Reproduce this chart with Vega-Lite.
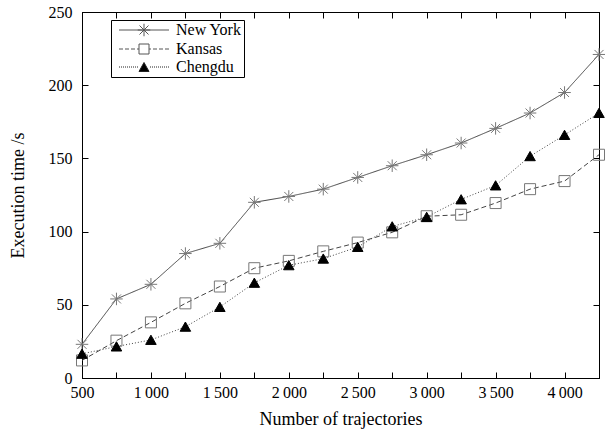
{
  "$schema": "https://vega.github.io/schema/vega-lite/v6.json",
  "autosize": "none",
  "width": 517,
  "height": 366,
  "padding": {"left": 82, "top": 12, "right": 6, "bottom": 52},
  "background": "white",
  "data": {"values": [
    {"city": "New York", "n": 500, "t": 23},
    {"city": "New York", "n": 750, "t": 54},
    {"city": "New York", "n": 1000, "t": 64},
    {"city": "New York", "n": 1250, "t": 85},
    {"city": "New York", "n": 1500, "t": 92},
    {"city": "New York", "n": 1750, "t": 120},
    {"city": "New York", "n": 2000, "t": 124},
    {"city": "New York", "n": 2250, "t": 129},
    {"city": "New York", "n": 2500, "t": 137},
    {"city": "New York", "n": 2750, "t": 145},
    {"city": "New York", "n": 3000, "t": 152.5},
    {"city": "New York", "n": 3250, "t": 160.5},
    {"city": "New York", "n": 3500, "t": 170.5},
    {"city": "New York", "n": 3750, "t": 181},
    {"city": "New York", "n": 4000, "t": 195},
    {"city": "New York", "n": 4250, "t": 221},
    {"city": "Kansas", "n": 500, "t": 12},
    {"city": "Kansas", "n": 750, "t": 25.5},
    {"city": "Kansas", "n": 1000, "t": 38},
    {"city": "Kansas", "n": 1250, "t": 51},
    {"city": "Kansas", "n": 1500, "t": 62.5},
    {"city": "Kansas", "n": 1750, "t": 75},
    {"city": "Kansas", "n": 2000, "t": 80},
    {"city": "Kansas", "n": 2250, "t": 86.5},
    {"city": "Kansas", "n": 2500, "t": 92.5},
    {"city": "Kansas", "n": 2750, "t": 99.5},
    {"city": "Kansas", "n": 3000, "t": 110.5},
    {"city": "Kansas", "n": 3250, "t": 111.5},
    {"city": "Kansas", "n": 3500, "t": 119.5},
    {"city": "Kansas", "n": 3750, "t": 129},
    {"city": "Kansas", "n": 4000, "t": 134.5},
    {"city": "Kansas", "n": 4250, "t": 152.5},
    {"city": "Chengdu", "n": 500, "t": 16.5},
    {"city": "Chengdu", "n": 750, "t": 21.5},
    {"city": "Chengdu", "n": 1000, "t": 26},
    {"city": "Chengdu", "n": 1250, "t": 35},
    {"city": "Chengdu", "n": 1500, "t": 48.5},
    {"city": "Chengdu", "n": 1750, "t": 65},
    {"city": "Chengdu", "n": 2000, "t": 77},
    {"city": "Chengdu", "n": 2250, "t": 81.5},
    {"city": "Chengdu", "n": 2500, "t": 89.5},
    {"city": "Chengdu", "n": 2750, "t": 103.5},
    {"city": "Chengdu", "n": 3000, "t": 110},
    {"city": "Chengdu", "n": 3250, "t": 122},
    {"city": "Chengdu", "n": 3500, "t": 131.5},
    {"city": "Chengdu", "n": 3750, "t": 151.5},
    {"city": "Chengdu", "n": 4000, "t": 166},
    {"city": "Chengdu", "n": 4250, "t": 181}
  ]},
  "layer": [
    {
      "mark": {"type": "line", "stroke": "#444", "strokeWidth": 1},
      "encoding": {
        "x": {"field": "n", "type": "quantitative",
              "scale": {"domain": [500, 4250], "nice": false, "zero": false},
              "axis": {"values": [500,750,1000,1250,1500,1750,2000,2250,2500,2750,3000,3250,3500,3750,4000,4250],
                       "labelExpr": "datum.value % 500 == 0 ? replace(format(datum.value, ','), ',', '\u2009') : ''",
                       "title": "Number of trajectories", "labelPadding": 12, "titlePadding": 10, "labelFlush": false, "labelOverlap": false}},
        "y": {"field": "t", "type": "quantitative",
              "scale": {"domain": [0, 250], "nice": false},
              "axis": {"values": [0,50,100,150,200,250], "title": "Execution time /s", "labelPadding": 16, "titlePadding": 21}},
        "detail": {"field": "city", "type": "nominal"},
        "strokeDash": {"field": "city", "type": "nominal",
                       "scale": {"domain": ["New York", "Kansas", "Chengdu"], "range": [[1, 0], [5, 3], [1, 2]]},
                       "legend": null}
      }
    },
    {
      "mark": {"type": "point", "strokeWidth": 1, "opacity": 1, "size": 100},
      "encoding": {
        "x": {"field": "n", "type": "quantitative", "axis": null},
        "y": {"field": "t", "type": "quantitative", "axis": null},
        "shape": {"field": "city", "type": "nominal",
                  "scale": {"domain": ["New York", "Kansas", "Chengdu"],
                            "range": ["M-1.25,0L1.25,0M0,-1.25L0,1.25M-0.9,-0.9L0.9,0.9M-0.9,0.9L0.9,-0.9",
                                      "M-1.1,-1.1L1.1,-1.1L1.1,1.1L-1.1,1.1Z",
                                      "M0,-0.95L1.05,0.9L-1.05,0.9Z"]},
                  "legend": null},
        "fill": {"field": "city", "type": "nominal",
                 "scale": {"domain": ["New York", "Kansas", "Chengdu"], "range": ["transparent", "transparent", "black"]},
                 "legend": null},
        "stroke": {"field": "city", "type": "nominal",
                   "scale": {"domain": ["New York", "Kansas", "Chengdu"], "range": ["#777", "#777", "black"]},
                   "legend": null}
      }
    },
    {
      "mark": {"type": "point", "strokeWidth": 1, "opacity": 0, "size": 100},
      "encoding": {
        "x": {"field": "n", "type": "quantitative",
              "axis": {"orient": "top", "values": [500,750,1000,1250,1500,1750,2000,2250,2500,2750,3000,3250,3500,3750,4000,4250],
                       "labels": false, "title": null}},
        "y": {"field": "t", "type": "quantitative",
              "axis": {"orient": "right", "values": [0,50,100,150,200,250], "labels": false, "title": null}},
        "shape": {"field": "city", "type": "nominal",
                  "scale": {"domain": ["New York", "Kansas", "Chengdu"],
                            "range": [
                              "M-5,0L5,0M-1.25,0L1.25,0M0,-1.25L0,1.25M-0.9,-0.9L0.9,0.9M-0.9,0.9L0.9,-0.9",
                              "M-5,0L-4.2,0M-3.8,0L-3,0M-2.6,0L-1.8,0M-1.4,0L-1,0M-1,-1L1,-1L1,1L-1,1ZM1,0L1.4,0M1.8,0L2.6,0M3,0L3.8,0M4.2,0L5,0",
                              "M-5,0L-4.8,0M-4.6,0L-4.4,0M-4.2,0L-4,0M-3.8,0L-3.6,0M-3.4,0L-3.2,0M-3,0L-2.8,0M-2.6,0L-2.4,0M-2.2,0L-2,0M-1.8,0L-1.6,0M-1.4,0L-1.2,0M0,-0.9L1,0.9L-1,0.9ZM1.2,0L1.4,0M1.6,0L1.8,0M2,0L2.2,0M2.4,0L2.6,0M2.8,0L3,0M3.2,0L3.4,0M3.6,0L3.8,0M4,0L4.2,0M4.4,0L4.6,0M4.8,0L5,0"
                            ]},
                  "legend": {"title": null, "orient": "none", "legendX": 29, "legendY": 8}},
        "fill": {"field": "city", "type": "nominal",
                 "scale": {"domain": ["New York", "Kansas", "Chengdu"], "range": ["transparent", "transparent", "black"]},
                 "legend": {"title": null, "orient": "none", "legendX": 29, "legendY": 8}},
        "stroke": {"field": "city", "type": "nominal",
                   "scale": {"domain": ["New York", "Kansas", "Chengdu"], "range": ["#555", "#555", "#222"]},
                   "legend": {"title": null, "orient": "none", "legendX": 29, "legendY": 8}}
      }
    }
  ],
  "resolve": {
    "scale": {"shape": "independent", "fill": "independent", "stroke": "independent"},
    "axis": {"x": "independent", "y": "independent"}
  },
  "config": {
    "font": "Liberation Serif",
    "view": {"stroke": "black", "strokeWidth": 1},
    "axis": {
      "domainColor": "black", "domainWidth": 1, "tickColor": "black", "tickWidth": 1, "tickSize": -6,
      "grid": false, "labelFont": "Liberation Serif", "labelFontSize": 16, "labelColor": "black",
      "titleFont": "Liberation Serif", "titleFontSize": 18, "titleFontWeight": "normal", "titleColor": "black"
    },
    "legend": {
      "strokeColor": "black", "fillColor": "white", "padding": 2,
      "labelFont": "Liberation Serif", "labelFontSize": 16, "labelColor": "black",
      "symbolSize": 100, "symbolStrokeWidth": 1, "symbolOpacity": 1,
      "symbolOffset": 23, "labelOffset": 24, "rowPadding": 2
    }
  }
}
